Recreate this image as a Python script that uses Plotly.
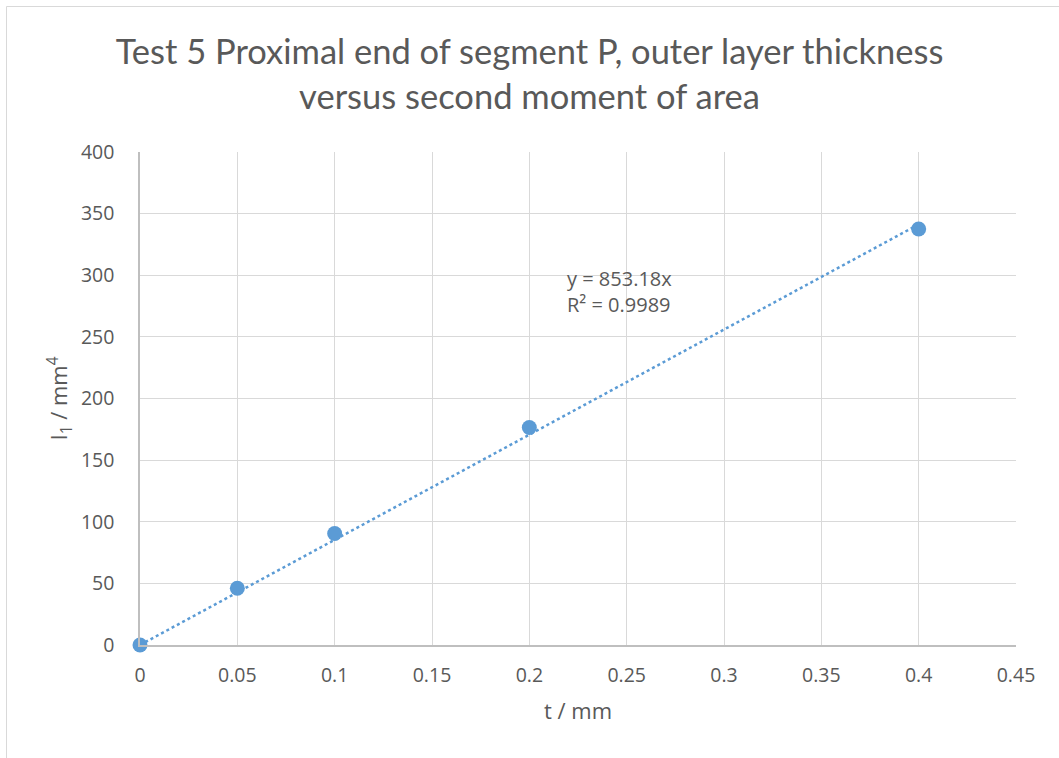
import plotly.graph_objects as go

# Outer layer thickness (mm) and second moment of area (mm^4)
thickness = [0, 0.05, 0.1, 0.2, 0.4]
second_moment = [0, 46, 90.5, 176.5, 337.5]

# Linear trendline through the origin
slope = 853.18
r_squared = 0.9989
trend_x = [0, 0.4]
trend_y = [slope * x for x in trend_x]

x_ticks = [0, 0.05, 0.1, 0.15, 0.2, 0.25, 0.3, 0.35, 0.4, 0.45]
x_tick_text = ["0", "0.05", "0.1", "0.15", "0.2", "0.25", "0.3", "0.35", "0.4", "0.45"]
y_ticks = [0, 50, 100, 150, 200, 250, 300, 350, 400]

blue = "#5b9bd5"
text_grey = "#595959"
grid_grey = "#d9d9d9"
body_family = "Open Sans"
tick_font = dict(family=body_family, size=19.5, color=text_grey)
axis_title_font = dict(family=body_family, size=22, color=text_grey)

fig = go.Figure()
fig.add_trace(go.Scatter(
    x=trend_x, y=trend_y, mode="lines",
    line=dict(color=blue, width=2.5, dash="dot"),
    hoverinfo="skip", showlegend=False,
))
fig.add_trace(go.Scatter(
    x=thickness, y=second_moment, mode="markers",
    marker=dict(color=blue, size=15),
    showlegend=False, cliponaxis=False,
))

W, H = 1059, 758
ml, mr, mt, mb = 140, 43, 152, 113
pw, ph = W - ml - mr, H - mt - mb

def px_to_paper_x(px):
    return (px - ml) / pw

def px_to_paper_y(py):
    return (H - mb - py) / ph

# Chart-area border (left and top edges)
fig.add_shape(type="line", xref="paper", yref="paper",
              x0=px_to_paper_x(6.5), x1=px_to_paper_x(6.5),
              y0=px_to_paper_y(6.5), y1=px_to_paper_y(H + 5),
              line=dict(color="#d9d9d9", width=1))
fig.add_shape(type="line", xref="paper", yref="paper",
              x0=px_to_paper_x(6.5), x1=px_to_paper_x(W + 5),
              y0=px_to_paper_y(6.5), y1=px_to_paper_y(6.5),
              line=dict(color="#d9d9d9", width=1))

fig.add_annotation(
    x=0.2185, y=287, xref="x", yref="y",
    text=f"y = {slope}x<br>R² = {r_squared}",
    showarrow=False, xanchor="left", yanchor="middle", align="left",
    font=dict(family=body_family, size=20, color=text_grey),
)

fig.update_layout(
    width=W, height=H,
    margin=dict(l=ml, r=mr, t=mt, b=mb),
    paper_bgcolor="white", plot_bgcolor="white",
    title=dict(
        text="Test 5 Proximal end of segment P, outer layer thickness<br>versus second moment of area",
        x=0.5, xanchor="center", y=0.915, yanchor="middle",
        font=dict(family="Lato", size=34.5, color=text_grey),
    ),
    xaxis=dict(
        range=[0, 0.45], tickvals=x_ticks, ticktext=x_tick_text,
        showgrid=True, gridcolor=grid_grey, gridwidth=1,
        showline=True, linecolor="#bfbfbf", linewidth=1.5,
        zeroline=False, ticks="outside", ticklen=12, tickcolor="rgba(0,0,0,0)",
        tickfont=tick_font,
        title=dict(text="t / mm", font=axis_title_font, standoff=16),
    ),
    yaxis=dict(
        range=[0, 400], tickvals=y_ticks,
        showgrid=True, gridcolor=grid_grey, gridwidth=1,
        showline=True, linecolor="#bfbfbf", linewidth=1.5,
        zeroline=False, ticks="outside", ticklen=20, tickcolor="rgba(0,0,0,0)",
        tickfont=tick_font,
        title=dict(text="I<sub>1</sub> / mm<sup>4</sup>", font=axis_title_font, standoff=7),
    ),
)

fig.write_html("out.html")
